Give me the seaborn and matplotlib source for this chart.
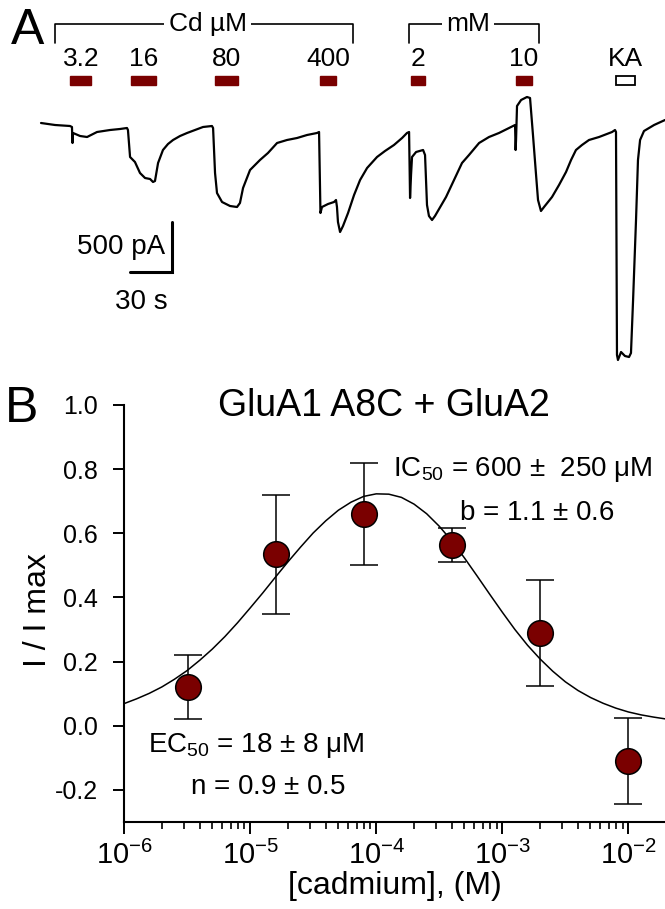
import numpy as np
import pandas as pd
import matplotlib
matplotlib.use("Agg")
import matplotlib.pyplot as plt
import seaborn as sns

# ---- panel A: whole-cell current trace (time in s, current in pA) ----
trace_t = [0, 10, 20.7, 22.1, 22.5, 22.9, 27.9, 32.9, 40, 49.3, 56.4, 61.4,
           62.1, 63.6, 67.1, 70.7, 74.3, 77.9, 80, 81.4, 83.6, 87.1, 90.7, 94.3,
           99.3, 104.3, 110, 115.7, 122.1,
           122.9, 124.3, 125.7, 129.3, 135, 140, 142.1, 144.3, 149.3, 156.4,
           162.1, 168.6, 175.7, 182.9, 190, 197.1, 198.6,
           199.6, 200.7, 205, 209.3, 210.7, 211.4, 212.1, 213.6, 215.7, 219.3,
           223.6, 227.9, 232.9, 240, 245.7, 252.1, 257.9, 261.4, 262.9,
           263.6, 264.3, 265, 267.9, 272.9, 274.3, 275.7, 277.1, 279.3, 281.4,
           289.3, 295, 300.7, 305.7, 312.9, 320, 327.1, 334.3, 338.6,
           339, 339.3, 340, 342.9, 347.1, 349.3, 351.4, 353.6, 355, 357.1,
           359.3, 365, 370, 375, 378.6, 382.1, 386.4, 391.4, 398.6, 407.9, 410,
           410.7, 411.4, 412.1, 414.3, 417.1, 420, 421.4, 422.9, 425, 426.4,
           427.9, 430.7, 437.9, 445.7]
trace_pA = [0, -20, -30, -40, -200, -100, -130, -140, -90, -70, -60, -50,
            -70, -340, -390, -500, -550, -560, -590, -580, -400, -270, -210, -170,
            -130, -100, -70, -40, -30,
            -50, -500, -700, -790, -830, -840, -800, -650, -470, -370,
            -300, -200, -170, -150, -120, -100, -90,
            -900, -840, -810, -790, -770, -840, -990, -1090, -1030, -900,
            -720, -570, -450, -340, -280, -220, -150, -100, -90,
            -750, -520, -340, -290, -270, -320, -820, -930, -970, -930,
            -740, -570, -400, -320, -200, -140, -100, -50, -20,
            -270, -170, 170, 230, 260, 250, -120, -520, -770, -880,
            -840, -740, -620, -490, -370, -270, -220, -170, -140, -90, -70,
            -90, -2320, -2370, -2290, -2330, -2340, -2300, -1770, -970, -370,
            -170, -80, -20, 30]

# applications
app_labels = ["3.2", "16", "80", "400", "2", "10", "KA"]
app_start = [21, 64, 124, 199, 264, 339, 411]
app_end = [36, 82, 141, 211, 274, 351, 424]
app_is_cd = [True, True, True, True, True, True, False]

# concentration group brackets (s)
group_labels = ["Cd \u00b5M", "mM"]
group_start = [10, 263]
group_end = [223, 356]
group_label_t = [119, 305]

scalebar_pA = 500
scalebar_s = 30

# ---- panel B: dose-response ----
cd_conc = [3.2e-6, 1.6e-5, 8e-5, 4e-4, 2e-3, 1e-2]
i_rel = [0.12, 0.535, 0.66, 0.563, 0.29, -0.11]
i_err = [0.10, 0.185, 0.16, 0.053, 0.165, 0.135]

fit_log_conc = [-6.0, -5.9, -5.8, -5.7, -5.6, -5.5, -5.4, -5.3, -5.2, -5.1,
                -5.0, -4.9, -4.8, -4.7, -4.6, -4.5, -4.4, -4.3, -4.2, -4.1,
                -4.0, -3.9, -3.8, -3.7, -3.6, -3.5, -3.4, -3.3, -3.2, -3.1,
                -3.0, -2.9, -2.8, -2.7, -2.6, -2.5, -2.4, -2.3, -2.2, -2.1,
                -2.0, -1.9, -1.8, -1.7]
fit_i = [0.069, 0.084, 0.101, 0.121, 0.145, 0.172, 0.204, 0.239, 0.278, 0.321,
         0.367, 0.414, 0.463, 0.511, 0.557, 0.601, 0.639, 0.672, 0.697, 0.715,
         0.723, 0.722, 0.712, 0.691, 0.661, 0.622, 0.576, 0.523, 0.467, 0.410,
         0.354, 0.300, 0.251, 0.208, 0.170, 0.137, 0.110, 0.088, 0.070, 0.055,
         0.043, 0.034, 0.027, 0.021]

dark_red = "#7a0000"

sns.set_theme(style="ticks")
plt.rcParams["font.family"] = ["Liberation Sans", "DejaVu Sans"]
plt.rcParams["mathtext.fontset"] = "custom"
plt.rcParams["mathtext.rm"] = "Liberation Sans"
plt.rcParams["mathtext.it"] = "Liberation Sans"
plt.rcParams["mathtext.default"] = "regular"
for key in ["text.color", "axes.labelcolor", "xtick.color", "ytick.color",
            "axes.edgecolor"]:
    plt.rcParams[key] = "black"

W, H = 665, 909
fig = plt.figure(figsize=(W / 100, H / 100), dpi=100)


def fx(px):
    return px / W


def fy(py):
    return 1 - py / H


# ---------- panel A ----------
axA = fig.add_axes([0, fy(380), 1, 380 / H])
axA.set_xlim(-29.3, 445.7)
axA.set_ylim(-2570, 1230)
axA.axis("off")

trace = pd.DataFrame({"t": trace_t, "pA": trace_pA})
sns.lineplot(data=trace, x="t", y="pA", ax=axA, color="black", lw=1.6,
             sort=False, estimator=None)

for lab, s, e, cd in zip(app_labels, app_start, app_end, app_is_cd):
    axA.bar(s, 90, width=e - s, bottom=380, align="edge",
            color=dark_red if cd else "white",
            edgecolor=dark_red if cd else "black", lw=1.0 if cd else 1.3)
    axA.text((s + e) / 2, 640, lab, ha="center", va="center", fontsize=19)

for lab, s, e, tl in zip(group_labels, group_start, group_end, group_label_t):
    axA.plot([s, s, e, e], [800, 990, 990, 800], color="black", lw=1.2)
    axA.text(tl, 990, lab, ha="center", va="center", fontsize=19,
             bbox=dict(facecolor="white", edgecolor="none", pad=3))

# scale bar
sb_x, sb_y = 93.6, -1490
axA.plot([sb_x - scalebar_s, sb_x, sb_x], [sb_y, sb_y, sb_y + scalebar_pA],
         color="black", lw=2.2, solid_joinstyle="miter")
axA.text(sb_x - 5, sb_y + scalebar_pA / 2, f"{scalebar_pA} pA", ha="right",
         va="center", fontsize=20)
axA.text(sb_x - scalebar_s / 2 - 7, sb_y - 300, f"{scalebar_s} s", ha="center",
         va="center", fontsize=20)

fig.text(fx(28), fy(31), "A", fontsize=36, ha="center", va="center")

# ---------- panel B ----------
axB = fig.add_axes([fx(124), fy(822), 1 - fx(124), (822 - 405) / H])
fit = pd.DataFrame({"conc": 10.0 ** np.array(fit_log_conc), "i": fit_i})
sns.lineplot(data=fit, x="conc", y="i", ax=axB, color="black", lw=1.1,
             sort=False, estimator=None)
axB.errorbar(cd_conc, i_rel, yerr=i_err, fmt="none", ecolor="black",
             elinewidth=1.1, capsize=10, capthick=1.1, zorder=3)
sns.scatterplot(x=cd_conc, y=i_rel, ax=axB, s=340, color=dark_red,
                edgecolor="black", linewidth=1.1, zorder=4)

axB.set_xscale("log")
axB.set_xlim(1e-6, 10 ** -1.71)
axB.set_ylim(-0.3, 1.0)
axB.set_yticks([-0.2, 0.0, 0.2, 0.4, 0.6, 0.8, 1.0])
axB.set_yticklabels(["-0.2", "0.0", "0.2", "0.4", "0.6", "0.8", "1.0"])
axB.set_xticks([1e-6, 1e-5, 1e-4, 1e-3, 1e-2])
sns.despine(ax=axB)
for sp in ["left", "bottom"]:
    axB.spines[sp].set_linewidth(1.5)
    axB.spines[sp].set_color("black")
axB.tick_params(axis="y", which="major", length=8, width=1.4, pad=11,
                labelsize=18, color="black", labelcolor="black")
axB.tick_params(axis="x", which="major", length=8.5, width=1.4, pad=5,
                labelsize=21, color="black", labelcolor="black")
axB.tick_params(axis="x", which="minor", length=5, width=1.2, color="black")
axB.set_xlabel("")
axB.set_ylabel("")

fig.text(fx(395), fy(886), "[cadmium], (M)", ha="center", va="center",
         fontsize=23)
fig.text(fx(38), fy(610), "I / I max", ha="center", va="center",
         fontsize=23, rotation=90)
fig.text(fx(384), fy(406), "GluA1 A8C + GluA2", ha="center", va="center",
         fontsize=27)
fig.text(fx(393), fy(470), r"IC$_{50}$ = 600 $\pm$  250 $\mu$M", ha="left",
         va="center", fontsize=20)
fig.text(fx(537), fy(513), r"b = 1.1 $\pm$ 0.6", ha="center", va="center",
         fontsize=20)
fig.text(fx(148), fy(745), r"EC$_{50}$ = 18 $\pm$ 8 $\mu$M", ha="left",
         va="center", fontsize=20)
fig.text(fx(268), fy(787), r"n = 0.9 $\pm$ 0.5", ha="center", va="center",
         fontsize=20)
fig.text(fx(22), fy(409), "B", fontsize=36, ha="center", va="center")

fig.savefig("out.png", dpi=100)
